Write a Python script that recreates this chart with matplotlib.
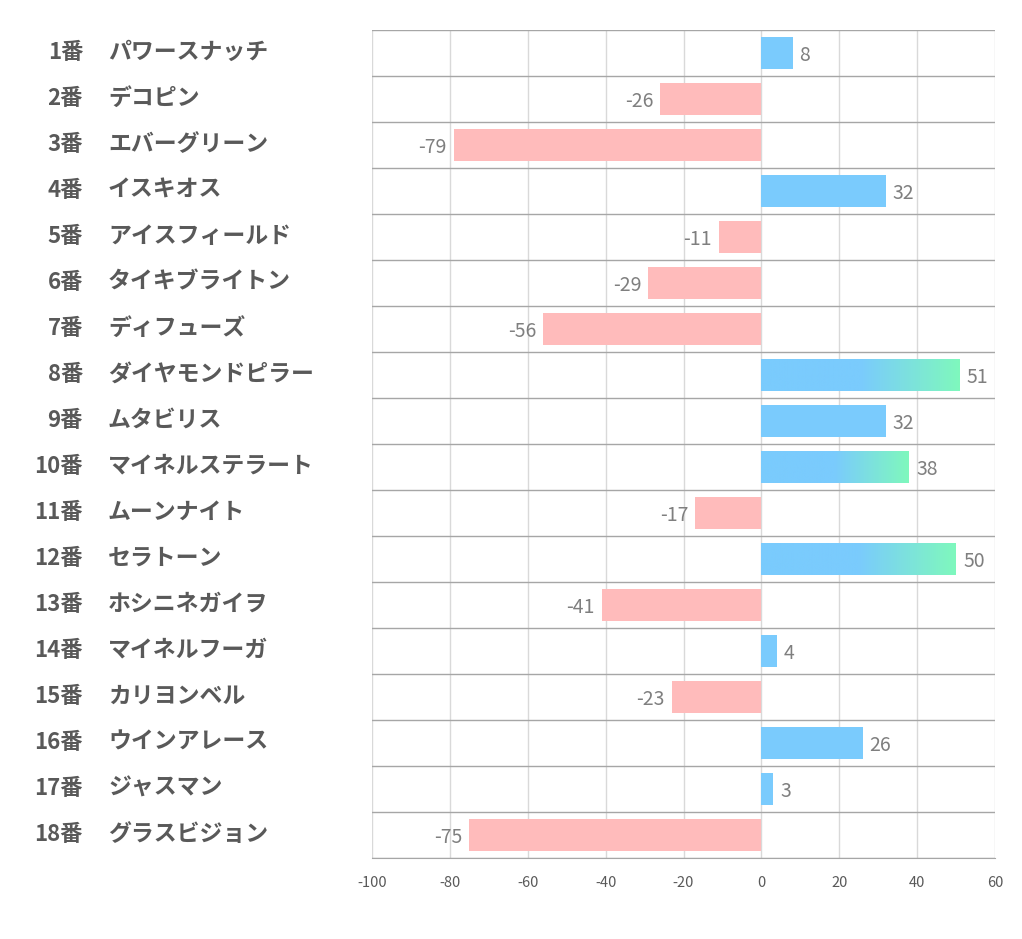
import numpy as np
import matplotlib
matplotlib.use('Agg')
import matplotlib.pyplot as plt
from matplotlib.colors import LinearSegmentedColormap
from matplotlib.transforms import blended_transform_factory, offset_copy

plt.rcParams['font.family'] = ['Noto Sans CJK JP', 'DejaVu Sans']

numbers = [f"{i}番" for i in range(1, 19)]
names = ["パワースナッチ", "デコピン", "エバーグリーン", "イスキオス", "アイスフィールド",
         "タイキブライトン", "ディフューズ", "ダイヤモンドピラー", "ムタビリス",
         "マイネルステラート", "ムーンナイト", "セラトーン", "ホシニネガイヲ",
         "マイネルフーガ", "カリヨンベル", "ウインアレース", "ジャスマン", "グラスビジョン"]
values = [8, -26, -79, 32, -11, -29, -56, 51, 32, 38, -17, 50, -41, 4, -23, 26, 3, -75]
xticks = [-100, -80, -60, -40, -20, 0, 20, 40, 60]

blue = '#7acbfd'
green = '#7ff8bd'
pink = '#ffbbbb'
grad = LinearSegmentedColormap.from_list('bg', [(0, blue), (0.5, blue), (1, green)])

fig = plt.figure(figsize=(10.22, 9.39), dpi=100)
ax = fig.add_axes([372 / 1022, 81 / 939, 623 / 1022, 828 / 939])

y = np.arange(len(values))
colors = [blue if v >= 0 else pink for v in values]
bars = ax.barh(y, values, height=0.68, color=colors, zorder=3)

# gradient on the longest positive bars
for b, v in zip(bars, values):
    if v > 35:
        b.set_facecolor('none')
        yc = b.get_y()
        img = ax.imshow(np.linspace(0, 1, 256).reshape(1, -1), cmap=grad, aspect='auto',
                        extent=[0, v, yc + b.get_height(), yc], zorder=3)
        img.set_clip_path(b)

ax.set_xlim(-100, 60)
ax.set_ylim(len(values) - 0.5, -0.5)
ax.set_xticks(xticks)
ax.set_xticklabels([str(t) for t in xticks], fontsize=10.5, color='#595959')
ax.tick_params(axis='x', length=0, pad=13)
ax.set_yticks([])
ax.set_yticks(np.arange(len(values) + 1) - 0.5, minor=True)
ax.tick_params(axis='y', which='both', length=0)
ax.grid(axis='x', color='#d9d9d9', linewidth=1, zorder=0)
ax.grid(axis='y', which='minor', color='#a6a6a6', linewidth=1, zorder=1)
for s in ['top', 'right', 'left']:
    ax.spines[s].set_visible(False)
ax.spines['bottom'].set_color('#a6a6a6')

# value labels
right = offset_copy(ax.transData, fig=fig, x=5, y=-2, units='points')
left = offset_copy(ax.transData, fig=fig, x=-5, y=-2, units='points')
for yi, v in zip(y, values):
    if v >= 0:
        ax.text(v, yi, str(v), transform=right, ha='left', va='center',
                fontsize=14, color='#7f7f7f', zorder=4)
    else:
        ax.text(v, yi, str(v), transform=left, ha='right', va='center',
                fontsize=14, color='#7f7f7f', zorder=4)

# row labels
tr = blended_transform_factory(fig.transFigure, ax.transData)
for yi, num, name in zip(y, numbers, names):
    ax.text(83 / 1022, yi - 0.02, num, transform=tr, ha='right', va='center',
            fontsize=16, fontweight='bold', color='#595959')
    ax.text(108 / 1022, yi - 0.02, name, transform=tr, ha='left', va='center',
            fontsize=16.5, fontweight='bold', color='#595959')

fig.savefig('out.png', dpi=100, facecolor='white')
